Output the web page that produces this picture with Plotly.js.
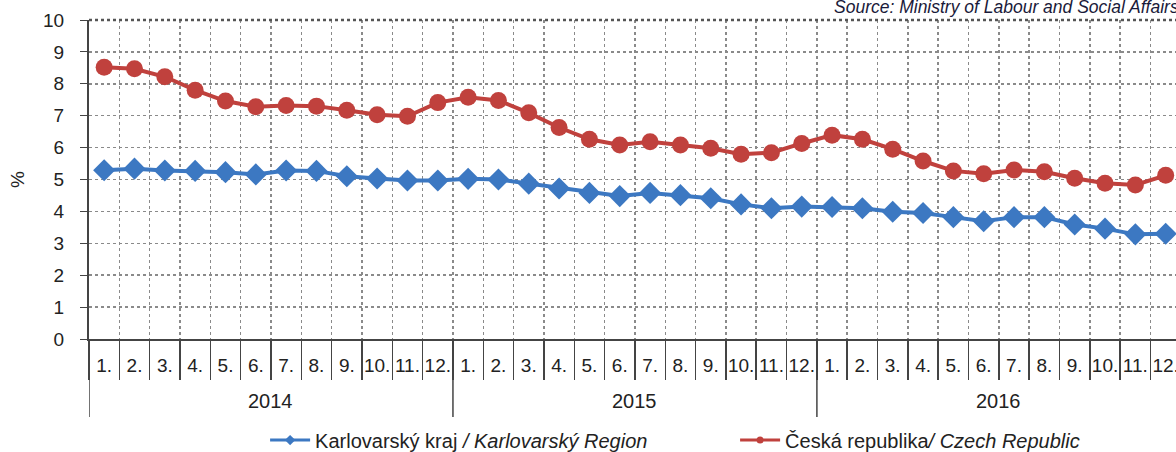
<!DOCTYPE html>
<html>
<head>
<meta charset="utf-8">
<script src="https://cdn.plot.ly/plotly-3.0.1.min.js"></script>
<style>html,body{margin:0;padding:0;background:#fff;}#chart{width:1176px;height:452px;}</style>
</head>
<body>
<div id="chart"></div>
<script>
const years = ["2014", "2015", "2016"];
const monthLabels = ["1.","2.","3.","4.","5.","6.","7.","8.","9.","10.","11.","12."];
const karlovarsky = [5.29,5.34,5.28,5.27,5.23,5.16,5.28,5.27,5.10,5.03,4.97,4.97,
                     5.02,5.00,4.87,4.72,4.58,4.48,4.58,4.51,4.41,4.22,4.10,4.15,
                     4.14,4.10,3.99,3.95,3.82,3.69,3.82,3.82,3.59,3.46,3.28,3.30];
const ceskaRepublika = [8.52,8.47,8.22,7.80,7.46,7.28,7.32,7.30,7.17,7.03,6.98,7.41,
                        7.58,7.48,7.09,6.63,6.26,6.08,6.18,6.08,5.98,5.79,5.84,6.13,
                        6.39,6.26,5.95,5.58,5.27,5.18,5.30,5.24,5.04,4.88,4.83,5.13];
const seriesNames = ["Karlovarský kraj <i>/ Karlovarský Region</i>", "Česká republika<i>/ Czech Republic</i>"];
const sourceText = "Source: Ministry of Labour and Social Affairs";
const yTitle = "%";

const n = years.length * monthLabels.length;
const xIdx = Array.from({length: n}, (_, i) => i);
const tickText = [];
years.forEach(() => monthLabels.forEach(m => tickText.push(m)));
const boundaries = Array.from({length: n + 1}, (_, i) => i - 0.5);

const font = "Liberation Sans, Arial, sans-serif";
const blue = "#3c78c2";
const red = "#c0413d";

const traces = [
  {x: xIdx, y: karlovarsky, name: seriesNames[0], type: "scatter", mode: "lines+markers", showlegend: false,
   line: {color: blue, width: 4}, marker: {symbol: "diamond", size: 17, color: blue}},
  {x: xIdx, y: ceskaRepublika, name: seriesNames[1], type: "scatter", mode: "lines+markers", showlegend: false,
   line: {color: red, width: 4}, marker: {symbol: "circle", size: 17, color: red}},
  {x: [null], y: [null], name: seriesNames[0], type: "scatter", mode: "lines+markers",
   line: {color: blue, width: 3}, marker: {symbol: "diamond", size: 8, color: blue}},
  {x: [null], y: [null], name: seriesNames[1], type: "scatter", mode: "lines+markers",
   line: {color: red, width: 3}, marker: {symbol: "circle", size: 7, color: red}}
];

const shapes = [];
for (let k = 0; k <= years.length; k++) {
  const xv = k * monthLabels.length - 0.5;
  shapes.push({type: "line", xref: "x", yref: "paper", x0: xv, x1: xv, y0: 0, y1: -0.2445,
               line: {color: "#444", width: 1.5}});
}
shapes.push({type: "line", xref: "paper", yref: "paper", x0: 0, x1: 1, y0: 1, y1: 1,
             line: {color: "#555", width: 2.5, dash: "dot"}});

const annotations = years.map((yr, k) => ({
  text: yr, xref: "x", yref: "paper", x: k * monthLabels.length + (monthLabels.length - 1) / 2,
  y: -0.194, xanchor: "center", yanchor: "middle", showarrow: false,
  font: {family: font, size: 20, color: "#222"}
}));
annotations.push({text: "<i>" + sourceText + "</i>", xref: "paper", yref: "paper",
  x: 0.6836, y: 1.04, xanchor: "left", yanchor: "middle", showarrow: false,
  font: {family: font, size: 17.5, color: "#1a1a3a"}});

const layout = {
  width: 1176, height: 452,
  margin: {l: 89, r: 0, t: 20, b: 113, autoexpand: false},
  paper_bgcolor: "#fff", plot_bgcolor: "#fff",
  font: {family: font, color: "#222"},
  showlegend: true,
  legend: {orientation: "h", x: 0.162, xanchor: "left", y: -0.317, yanchor: "middle",
           font: {family: font, size: 20, color: "#222"}, itemwidth: 40,
           entrywidth: 415, entrywidthmode: "pixels"},
  xaxis: {
    range: [-0.5, 35.34], tickmode: "array", tickvals: xIdx, ticktext: tickText, automargin: false,
    showgrid: false, zeroline: false, ticks: "", showline: true, linecolor: "#444", linewidth: 2,
    tickfont: {family: font, size: 19, color: "#222"}, ticklabelstandoff: 8, ticklabeloverflow: "allow",
    minor: {tickmode: "array", tickvals: boundaries, ticks: "outside", ticklen: 39, tickcolor: "#444",
            tickwidth: 1.5, showgrid: true, gridcolor: "#8a8a8a", griddash: "dot", gridwidth: 1.5}
  },
  yaxis: {
    range: [0, 10], dtick: 1, tick0: 0, showgrid: true, gridcolor: "#8a8a8a", griddash: "dot", gridwidth: 1.5,
    zeroline: false, showline: true, linecolor: "#444", linewidth: 2, ticks: "outside", ticklen: 7, automargin: false,
    tickcolor: "#444", tickfont: {family: font, size: 19, color: "#222"}, ticklabelstandoff: 12,
    title: {text: yTitle, font: {family: font, size: 19, color: "#222"}, standoff: 13}
  },
  shapes: shapes,
  annotations: annotations
};

Plotly.newPlot("chart", traces, layout, {displayModeBar: false, staticPlot: true});
</script>
</body>
</html>
